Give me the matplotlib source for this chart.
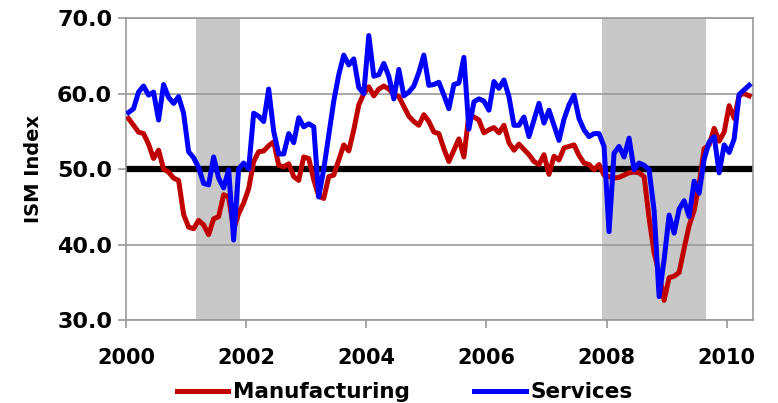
import numpy as np
import matplotlib
matplotlib.use("Agg")
import matplotlib.pyplot as plt

# ISM indexes, monthly, Jan 2000 - May 2010
manufacturing = [
    56.7, 55.8, 54.9, 54.7, 53.3, 51.4, 52.5, 50.0, 49.6, 48.8, 48.5, 44.0,  # 2000
    42.3, 42.1, 43.2, 42.6, 41.3, 43.4, 43.7, 46.6, 46.3, 42.0, 44.1, 45.5,  # 2001
    47.4, 51.0, 52.3, 52.4, 53.1, 53.6, 50.5, 50.3, 50.7, 49.0, 48.5, 51.6,  # 2002
    51.4, 48.6, 46.4, 46.1, 49.0, 49.2, 51.2, 53.2, 52.4, 55.2, 58.5, 60.0,  # 2003
    60.9, 59.7, 60.6, 61.0, 60.6, 59.9, 59.6, 58.3, 57.0, 56.3, 55.8, 57.2,  # 2004
    56.3, 54.9, 54.7, 52.7, 51.0, 52.5, 54.0, 51.6, 57.2, 56.9, 56.5, 54.8,  # 2005
    55.2, 55.5, 54.8, 55.8, 53.5, 52.5, 53.3, 52.6, 51.9, 51.0, 50.6, 51.9,  # 2006
    49.3, 51.7, 51.2, 52.8, 53.0, 53.2, 51.8, 50.8, 50.6, 49.9, 50.6, 49.2,  # 2007
    49.0, 48.8, 48.9, 49.2, 49.5, 49.6, 49.5, 49.0, 43.5, 38.9, 36.2, 32.6,  # 2008
    35.6, 35.8, 36.3, 39.5, 42.5, 44.5, 48.0, 52.7, 53.2, 55.4, 53.7, 54.9,  # 2009
    58.4, 56.7, 59.8, 60.0, 59.7,                                            # 2010
]
services = [
    57.5, 58.0, 60.2, 61.0, 59.8, 60.2, 56.5, 61.2, 59.5, 58.7, 59.6, 57.4,  # 2000
    52.3, 51.5, 50.2, 48.1, 47.9, 51.6, 48.8, 47.5, 49.9, 40.6, 50.0, 50.8,  # 2001
    50.0, 57.4, 57.0, 56.3, 60.6, 55.0, 52.0, 52.0, 54.7, 53.5, 56.8, 55.6,  # 2002
    56.0, 55.6, 46.3, 50.0, 54.5, 59.0, 62.5, 65.1, 63.8, 64.6, 60.8, 60.0,  # 2003
    67.7, 62.3, 62.5, 64.0, 62.3, 59.3, 63.2, 59.7, 60.2, 61.0, 62.8, 65.1,  # 2004
    61.1, 61.2, 61.5, 59.8, 58.0, 61.2, 61.4, 64.8, 55.3, 58.9, 59.3, 59.0,  # 2005
    57.8, 61.6, 60.7, 61.8, 59.6, 55.8, 55.8, 56.9, 54.3, 56.5, 58.7, 56.1,  # 2006
    57.8, 55.8, 53.8, 56.6, 58.5, 59.8, 56.7, 55.2, 54.3, 54.7, 54.7, 53.0,  # 2007
    41.7, 52.1, 53.0, 51.6, 54.1, 49.9, 50.8, 50.5, 49.9, 44.5, 33.1, 38.0,  # 2008
    43.9, 41.5, 44.7, 45.8, 43.7, 48.4, 46.8, 51.3, 53.6, 54.3, 49.5, 53.2,  # 2009
    52.2, 54.0, 59.9, 60.5, 61.1,                                            # 2010
]
recessions = [(2001.17, 2001.90), (2007.92, 2009.65)]
year_ticks = [2000, 2002, 2004, 2006, 2008, 2010]
index_ticks = [30, 40, 50, 60, 70]

# mid-month positions in decimal years
months = 2000 + (np.arange(len(manufacturing)) + 0.5) / 12

fig = plt.figure(figsize=(7.78, 4.03), dpi=100)
ax = fig.add_axes([0.162, 0.206, 0.806, 0.749])

for start, end in recessions:
    ax.axvspan(start, end, color="#c8c8c8", lw=0, zorder=1)

ax.axhline(50, color="black", lw=4.5, zorder=2)
ax.plot(months, manufacturing, color="#c00000", lw=3.6, zorder=3,
        solid_joinstyle="round", label="Manufacturing")
ax.plot(months, services, color="#0000ff", lw=3.6, zorder=4,
        solid_joinstyle="round", label="Services")

ax.set_xlim(2000, 2010.44)
ax.set_ylim(30, 70)
ax.set_xticks(year_ticks)
ax.set_yticks(index_ticks)
ax.set_yticklabels([f"{v:.1f}" for v in index_ticks])
ax.yaxis.grid(True, color="#999999", lw=1.2)

for side in ax.spines.values():
    side.set_color("#999999")
    side.set_linewidth(1.2)

ax.tick_params(axis="both", colors="#999999", direction="out", length=6, width=1.2,
               labelcolor="black", labelsize=15)
ax.tick_params(axis="y", labelsize=16, pad=4)
ax.tick_params(axis="x", pad=14)
for lbl in ax.get_xticklabels() + ax.get_yticklabels():
    lbl.set_fontweight("bold")

ax.set_ylabel("ISM Index", fontsize=14, fontweight="bold", labelpad=10)

fig.legend(loc="center", bbox_to_anchor=(0.52, 0.027), ncol=2, frameon=False,
           prop={"weight": "bold", "size": 15.5}, handlelength=2.4, handletextpad=0.2,
           columnspacing=3.0)

fig.savefig("out.png", dpi=100)
